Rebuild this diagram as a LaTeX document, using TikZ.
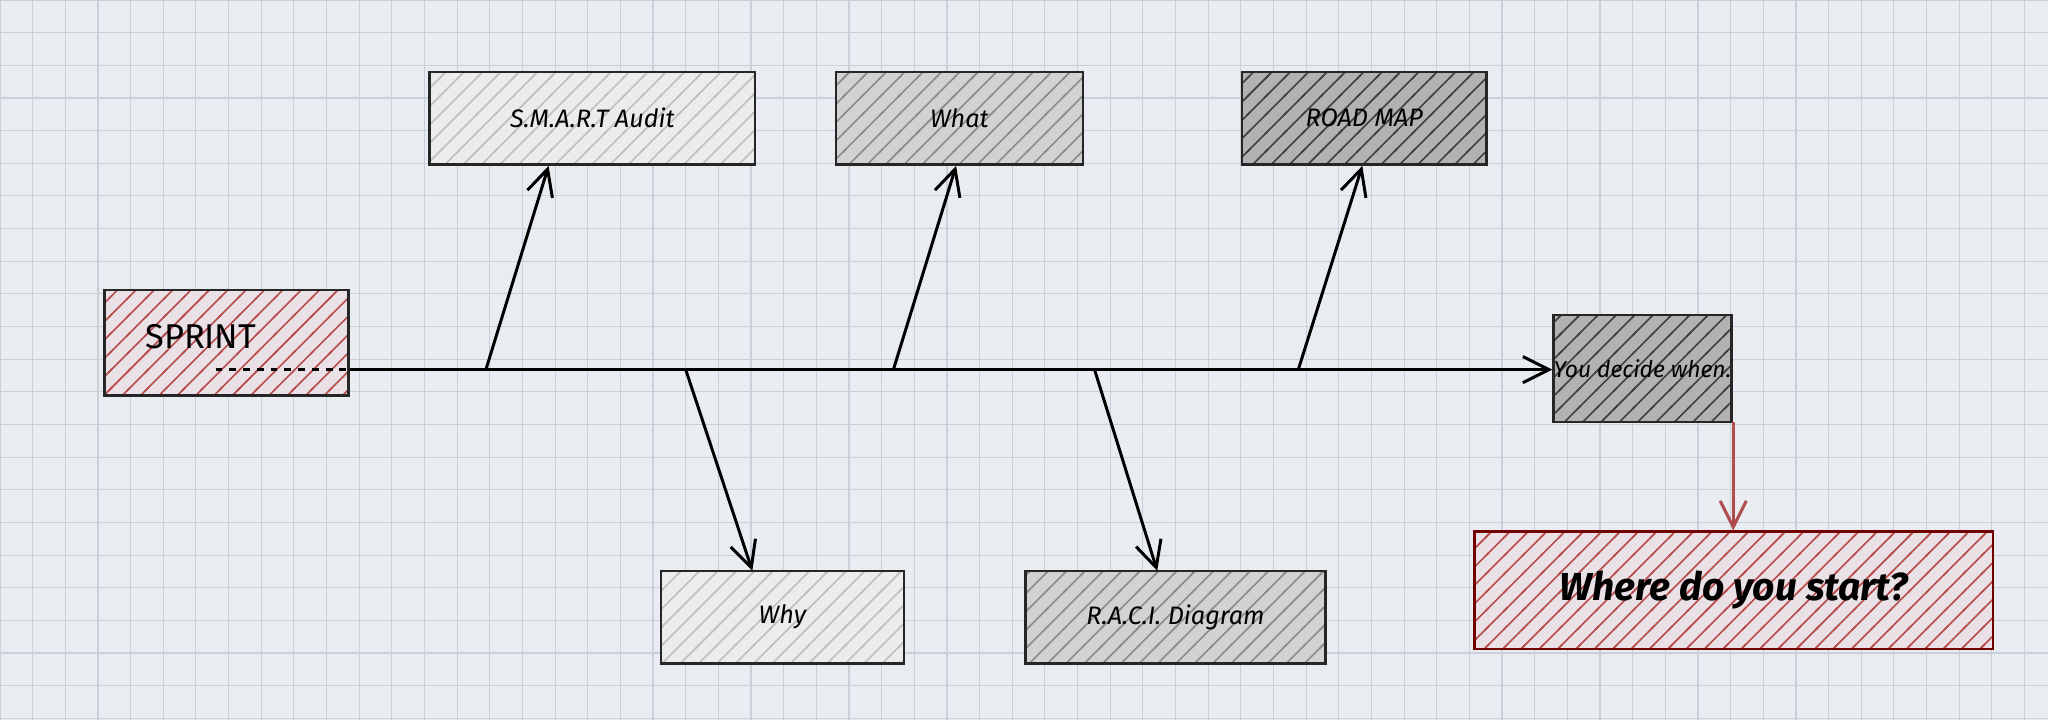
\documentclass[tikz,border=0pt]{standalone}
\usepackage{fontspec}
\setmainfont{Fira Sans}
\usetikzlibrary{patterns.meta,arrows.meta}
\definecolor{bg}{HTML}{E9EDF2}
\definecolor{gridc}{HTML}{C9D0D9}
\tikzdeclarepattern{name=hatch,type=uncolored,bounding box={(-1pt,-1pt) and (9pt,9pt)},tile size={(8pt,8pt)},
 code={\draw[line width=0.7pt] (-1pt,-1pt)--(9pt,9pt);}}
\begin{document}
\begin{tikzpicture}[x=0.02cm,y=-0.02cm,
 box/.style={draw=black!85,line width=1.1pt,minimum height=1.42cm,inner sep=0pt,font=\fontsize{11}{13}\selectfont\itshape},
 light/.style={box,preaction={fill=gray!15},preaction={pattern=hatch,pattern color=gray!50}},
 mid/.style={box,preaction={fill=gray!35},preaction={pattern=hatch,pattern color=gray!90}},
 dark/.style={box,preaction={fill=gray!60},preaction={pattern=hatch,pattern color=black!75}},
 redb/.style={box,preaction={fill=red!5!bg},preaction={pattern=hatch,pattern color=red!60!black!70}},
 con/.style={line width=1.3pt,-{Straight Barb[length=4mm,width=4mm]}}]
\fill[bg] (0,0) rectangle (1568,551);
\useasboundingbox (0,0) rectangle (1568,551);
\foreach \i in {0,25,...,1575} \draw[gridc,line width=0.5pt] (\i,0) -- (\i,551);
\foreach \j in {0,25,...,550} \draw[gridc,line width=0.5pt] (0,\j) -- (1568,\j);
\node[redb,minimum width=3.74cm,minimum height=1.62cm] (sprint) at (173.5,262.5) {};
\node[anchor=west,font=\fontsize{15}{17}\selectfont] (st) at (105,258) {SPRINT};
\node[dark,minimum width=2.62cm,minimum height=1.64cm,font=\fontsize{10}{12}\selectfont\itshape] (you) at (1257.5,282) {You decide when.};
\node[light,minimum width=4.98cm] (smart) at (453.5,90.5) {S.M.A.R.T Audit};
\node[mid,minimum width=3.78cm] (what) at (734.5,90.5) {What};
\node[dark,minimum width=3.74cm] (road) at (1044.5,90.5) {ROAD MAP};
\node[light,minimum width=3.72cm] (why) at (599,472.5) {Why};
\node[mid,minimum width=4.6cm] (raci) at (900,472.5) {R.A.C.I. Diagram};
\node[redb,draw=red!45!black,minimum width=7.94cm,minimum height=1.8cm,font=\fontsize{17}{19}\selectfont\bfseries\itshape] (where) at (1327.5,452) {Where do you start?};
\coordinate (d0) at (165,283);
\coordinate (a1) at (372,283);\coordinate (a2) at (684,283);\coordinate (a3) at (994,283);
\coordinate (b1) at (525,283);\coordinate (b2) at (838,283);
\coordinate (ye) at (1327,323);
\draw[line width=1.3pt,dashed] (d0) -- (sprint.east|-d0);
\draw[con] (sprint.east|-d0) -- (you.west|-d0);
\draw[con] (a1) -- (420,127);
\draw[con] (a2) -- (732,127);
\draw[con] (a3) -- (1043,127);
\draw[con] (b1) -- (576,437);
\draw[con] (b2) -- (886,437);
\draw[con,red!55!black!70] (ye) -- (ye|-where.north);
\end{tikzpicture}
\end{document}
